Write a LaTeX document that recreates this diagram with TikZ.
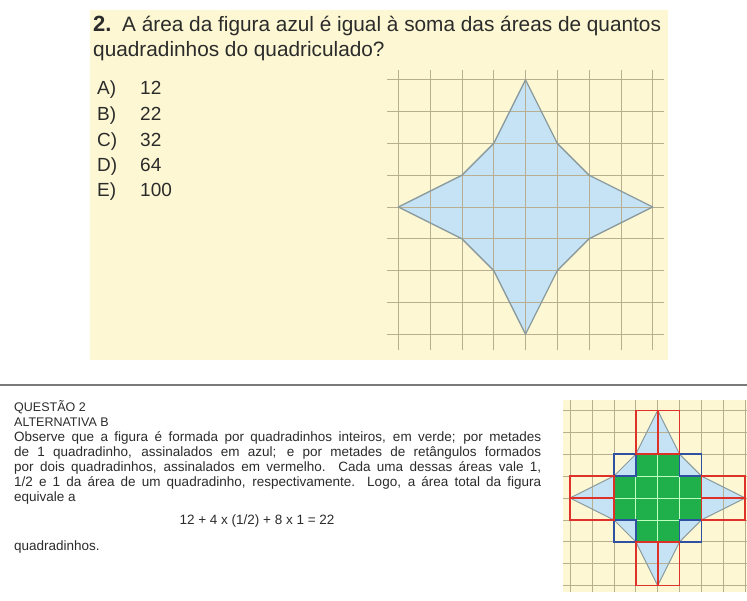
\documentclass[tikz,border=0pt]{standalone}
\usepackage{fontspec}
\setmainfont{Liberation Sans}
\usetikzlibrary{positioning}
\definecolor{paper}{HTML}{FDF8D3}
\definecolor{gridcol}{HTML}{B7AF90}
\definecolor{starblue}{HTML}{C6E3F6}
\definecolor{edgecol}{HTML}{8A9A9C}
\definecolor{greencol}{HTML}{20B04B}
\definecolor{redcol}{HTML}{DE3129}
\definecolor{bluecol}{HTML}{3050A0}
\definecolor{textgray}{HTML}{2B2B2B}
\definecolor{rulecol}{HTML}{7A7A7A}
\tikzstyle{heading} = [anchor=base west, inner sep=0pt, text=textgray, font=\fontsize{20.8}{25}\selectfont]
\tikzstyle{choice} = [anchor=base west, inner sep=0pt, text=textgray, font=\fontsize{19}{25}\selectfont]
\tikzstyle{answer} = [anchor=base west, inner sep=0pt, text=textgray, font=\fontsize{13.5}{15.2}\selectfont]
\tikzstyle{gridline} = [draw=gridcol, line width=0.8pt]
\tikzstyle{staredge} = [draw=edgecol, line width=1.3pt, line join=round]
\tikzstyle{redbox} = [draw=redcol, line width=1.7pt]
\tikzstyle{bluebox} = [draw=bluecol, line width=1.7pt]
\newcommand{\staroutline}{(0,4) -- (1,2) -- (2,1) -- (4,0) -- (2,-1) -- (1,-2) -- (0,-4) -- (-1,-2) -- (-2,-1) -- (-4,0) -- (-2,1) -- (-1,2) -- cycle}

\begin{document}
\begin{tikzpicture}[x=1pt, y=-1pt]
    \useasboundingbox (0,0) rectangle (747,601);
    % question panel
    \fill[paper] (90,10) rectangle (668,360);
    \node (qnum) [heading, font=\fontsize{22}{25}\selectfont\bfseries] at (93,32) {2.};
    \node (qline-1) [heading] at (122,32) {A área da figura azul é igual à soma das áreas de quantos};
    \node (qline-2) [heading] at (93,57) {quadradinhos do quadriculado?};
    \node (opt-a) [choice] at (97,95) {A)};
    \node (opt-b) [choice] at (97,121) {B)};
    \node (opt-c) [choice] at (97,147) {C)};
    \node (opt-d) [choice] at (97,172) {D)};
    \node (opt-e) [choice] at (97,197) {E)};
    \node (val-a) [choice] at (140,95) {12};
    \node (val-b) [choice] at (140,121) {22};
    \node (val-c) [choice] at (140,147) {32};
    \node (val-d) [choice] at (140,172) {64};
    \node (val-e) [choice] at (140,197) {100};
    \begin{scope}[shift={(525.5,207)}, x=31.8pt, y=31.8pt]
        \fill[starblue] \staroutline;
        \foreach \k in {-4,...,4} {
            \draw[gridline] (\k,-4.5) -- (\k,4.3);
            \draw[gridline] (-4.35,\k) -- (4.35,\k);
        }
        \draw[staredge] \staroutline;
    \end{scope}
    % separator
    \draw[rulecol, line width=2.5pt] (0,385) -- (747,385);
    % solution text
    \node (sol-title) [answer, font=\fontsize{12.5}{15.2}\selectfont] at (14,411) {QUESTÃO 2};
    \node (sol-alt) [answer, font=\fontsize{12.5}{15.2}\selectfont] at (14,426) {ALTERNATIVA B};
    \node (sol-body) [answer, text width=527pt, align=justify] at (14,441)
        {Observe que a figura é formada por quadradinhos inteiros, em verde; por metades\linebreak
         de 1 quadradinho, assinalados em azul; e por metades de retângulos formados\linebreak
         por dois quadradinhos, assinalados em vermelho. Cada uma dessas áreas vale 1,\linebreak
         1/2 e 1 da área de um quadradinho, respectivamente. Logo, a área total da figura\linebreak
         equivale a};
    \node (sol-sum) [answer, anchor=base] at (257,524) {12 + 4 x (1/2) + 8 x 1 = 22};
    \node (sol-end) [answer] at (14,550) {quadradinhos.};
    % solution figure
    \fill[paper] (563,400) rectangle (747,592);
    \begin{scope}[shift={(657.7,498)}, x=21.9pt, y=21.9pt]
        \fill[starblue] \staroutline;
        \fill[greencol] (-2,-1) rectangle (2,1);
        \fill[greencol] (-1,-2) rectangle (1,2);
        \foreach \k in {-4,...,4} {
            \draw[gridline] (\k,-4.29) -- (\k,4.47);
            \draw[gridline] (-4.32,\k) -- (4.07,\k);
        }
        \foreach \k in {-1,0,1} {
            \draw[green!25!white, line width=0.8pt] (\k,-2) -- (\k,2);
            \draw[green!25!white, line width=0.8pt] (-2,\k) -- (2,\k);
        }
        \draw[staredge, line width=1pt] \staroutline;
        \draw[bluebox] (1,1) rectangle (2,2);
        \draw[bluebox] (-2,1) rectangle (-1,2);
        \draw[bluebox] (-2,-2) rectangle (-1,-1);
        \draw[bluebox] (1,-2) rectangle (2,-1);
        \draw[redbox] (-1,2) rectangle (1,4) (0,2) -- (0,4);
        \draw[redbox] (-1,-4) rectangle (1,-2) (0,-2) -- (0,-4);
        \draw[redbox] (-4,-1) rectangle (-2,1) (-4,0) -- (-2,0);
        \draw[redbox] (2,-1) rectangle (4,1) (2,0) -- (4,0);
    \end{scope}
\end{tikzpicture}
\end{document}
